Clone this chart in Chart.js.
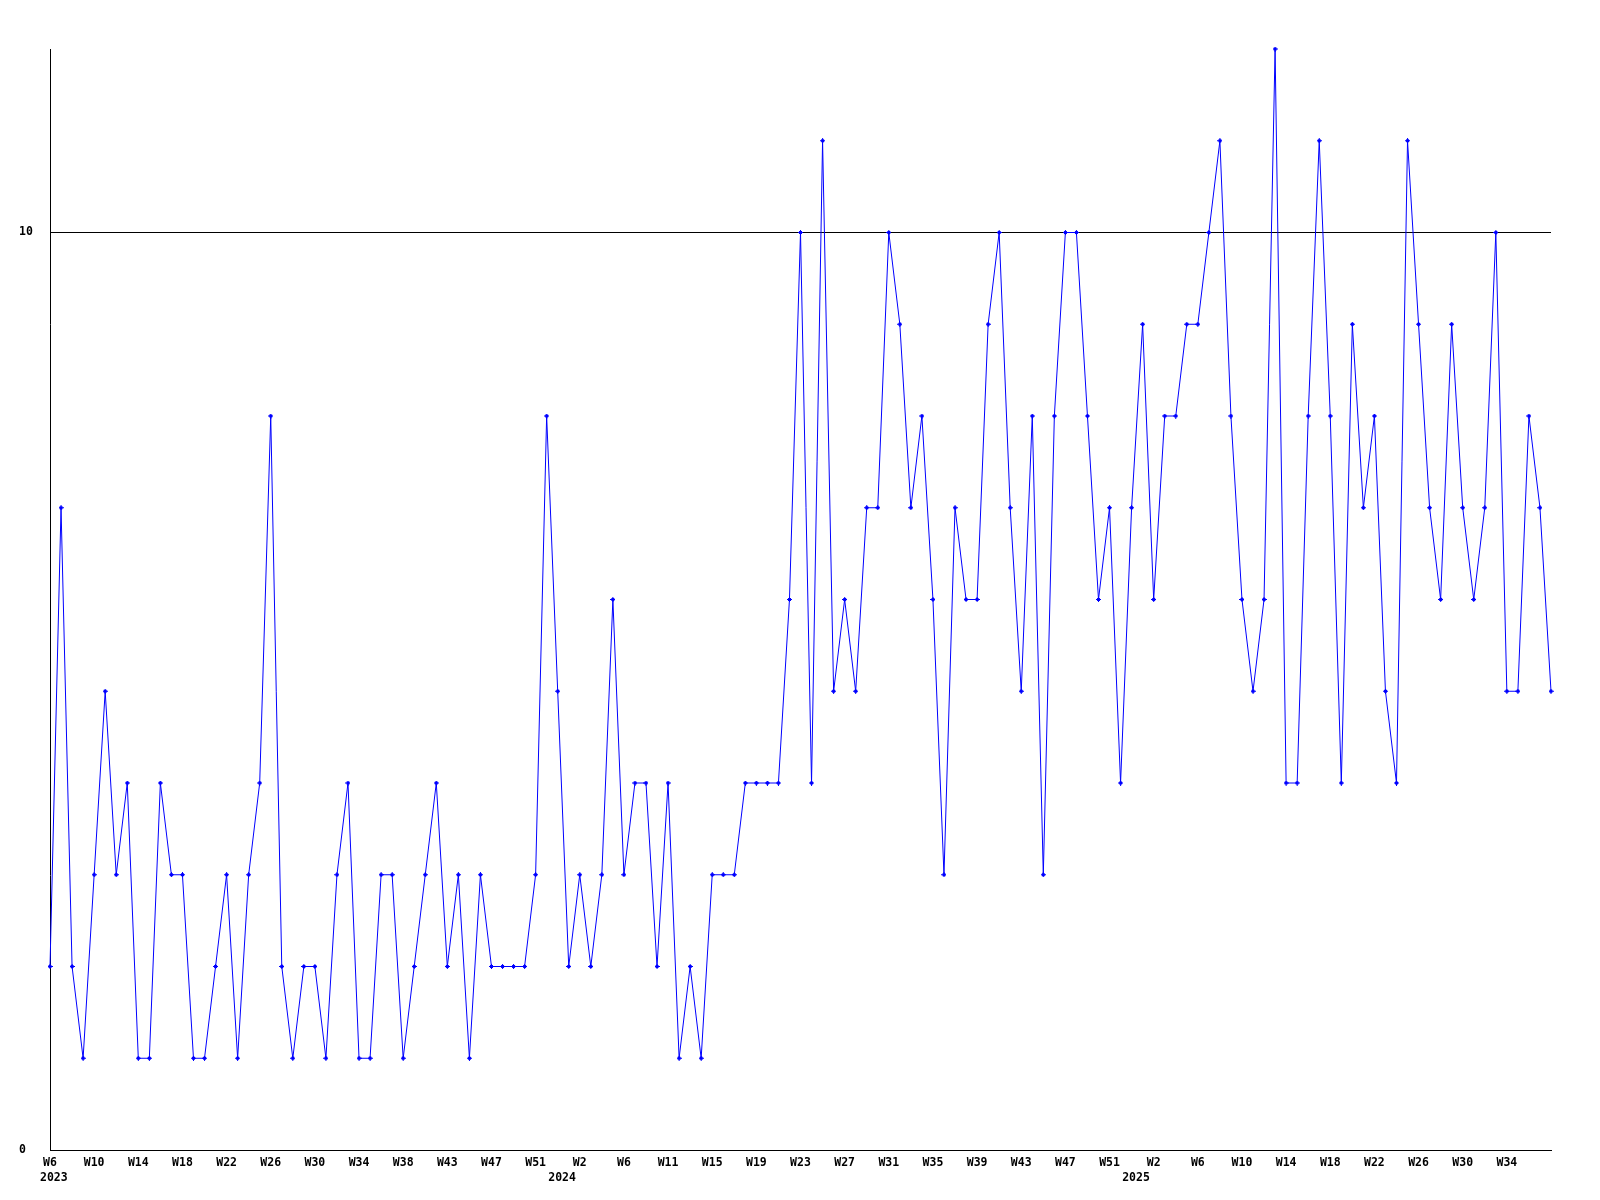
<!DOCTYPE html>
<html><head><meta charset="utf-8">
<script src="https://cdn.jsdelivr.net/npm/chart.js@4.4.1/dist/chart.umd.min.js"></script>
<style>html,body{margin:0;padding:0;background:#fff}canvas{display:block}</style>
</head><body>
<canvas id="c" width="1600" height="1200"></canvas>
<script>
// weekly values, W6 2023 .. W38 2025 (137 points)
const values = [
  2,7,2,1,3,5,3,4,1,1,4,3,3,1,1,2,3,1,3,4,8,2,1,2,2,1,3,4,1,1,3,3,1,
  2,3,4,2,3,1,3,2,2,2,2,3,8,5,2,3,2,3,6,3,4,4,2,4,1,2,1,3,3,3,4,4,
  4,4,6,10,4,11,5,6,5,7,7,10,9,7,8,6,3,7,6,6,9,10,7,5,8,3,8,10,10,8,6,7,
  4,7,9,6,8,8,9,9,10,11,8,6,5,6,12,4,4,8,11,8,4,9,7,8,5,4,11,9,7,6,9,7,6,7,10,5,5,8,7,5
];
// x tick labels, one every 4th point
const tickLabels = ['W6','W10','W14','W18','W22','W26','W30','W34','W38','W43','W47','W51',
  'W2','W6','W11','W15','W19','W23','W27','W31','W35','W39','W43','W47','W51',
  'W2','W6','W10','W14','W18','W22','W26','W30','W34'];
const tickEvery = 4;
const yearLabels = ['2023','2024','2025'];
const yearTickIndex = [0, 48, 100];
const yTickValues = [0, 10];
const yMax = 12;

const categories = values.map((_, i) => String(i));

const FONT = 'DejaVu Sans Mono';
const FSIZE = 11.5;
Chart.defaults.font.family = FONT;
Chart.defaults.font.size = FSIZE;
Chart.defaults.font.weight = 'bold';
Chart.defaults.color = '#000';

// small plus marker with a thick centre
const marker = document.createElement('canvas');
marker.width = 5; marker.height = 5;
(function () {
  const m = marker.getContext('2d');
  m.fillStyle = '#0000ff';
  m.fillRect(2, 0, 1, 5);
  m.fillRect(0, 2, 5, 1);
  m.fillRect(1, 1, 3, 3);
})();

const yearPlugin = {
  id: 'years',
  afterDraw(chart) {
    const x = chart.scales.x, ctx = chart.ctx;
    const step = x.getPixelForValue(1) - x.getPixelForValue(0);
    ctx.save();
    ctx.font = 'bold ' + FSIZE + 'px "' + FONT + '"';
    ctx.fillStyle = '#000';
    ctx.textBaseline = 'middle';
    yearLabels.forEach((t, k) => {
      const px = x.getPixelForValue(yearTickIndex[k]);
      if (k === 0) { ctx.textAlign = 'left'; ctx.fillText(t, px - 10, x.top + 28); }
      else { ctx.textAlign = 'center'; ctx.fillText(t, px - 1.6 * step, x.top + 28); }
    });
    ctx.restore();
  }
};

new Chart(document.getElementById('c'), {
  type: 'line',
  data: {
    labels: categories,
    datasets: [{
      data: values,
      borderColor: '#0000ff',
      borderWidth: 1,
      tension: 0,
      fill: false,
      pointStyle: marker,
      pointRadius: 3,
      pointBorderColor: '#0000ff',
      pointBackgroundColor: '#0000ff',
      clip: false
    }]
  },
  options: {
    responsive: false,
    animation: false,
    devicePixelRatio: 1,
    layout: { padding: { left: 19, top: 49, right: 49, bottom: 0 } },
    plugins: { legend: { display: false }, tooltip: { enabled: false } },
    scales: {
      x: {
        type: 'category',
        offset: false,
        grid: { display: false, drawTicks: false },
        border: { display: true, color: '#000', width: 1 },
        ticks: {
          autoSkip: false, maxRotation: 0, minRotation: 0, padding: 6,
          callback: (v, i) => (i % tickEvery === 0 ? tickLabels[i / tickEvery] : null)
        },
        afterFit: (s) => { s.height = 50; }
      },
      y: {
        min: 0, max: yMax,
        afterBuildTicks: (axis) => { axis.ticks = yTickValues.map(v => ({ value: v })); },
        grid: { color: '#000', lineWidth: 1, drawTicks: false },
        border: { display: true, color: '#000', width: 1 },
        ticks: { crossAlign: 'far', padding: 0, callback: (v) => String(v) },
        afterFit: (s) => { s.width = 31; }
      }
    }
  },
  plugins: [yearPlugin]
});
</script>
</body></html>
